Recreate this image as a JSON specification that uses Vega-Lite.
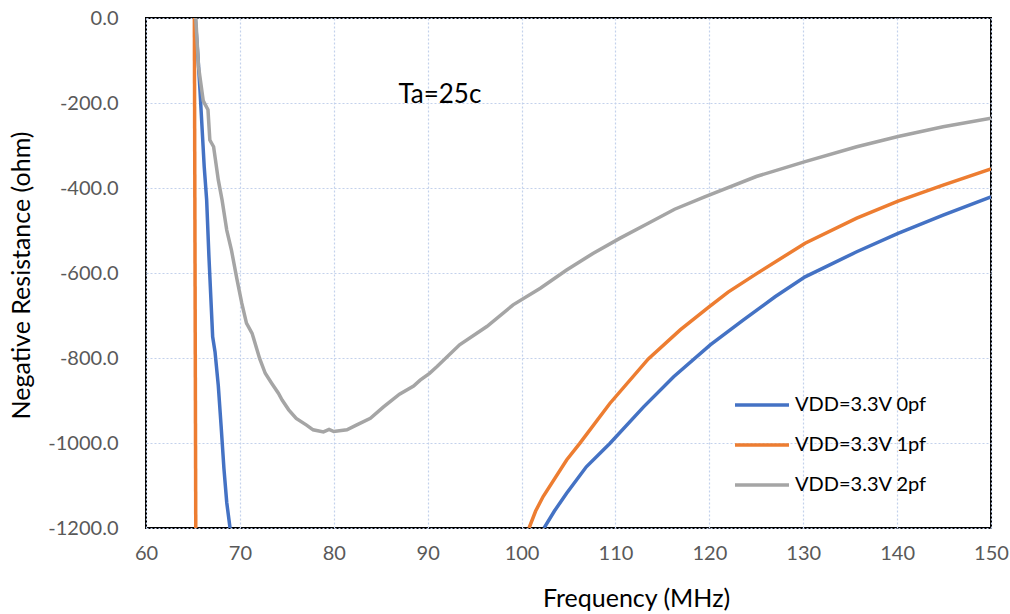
{
  "$schema": "https://vega.github.io/schema/vega-lite/v6.json",
  "width": 845,
  "height": 510,
  "autosize": {"type": "none"},
  "padding": {"left": 146, "top": 18, "right": 19, "bottom": 86},
  "background": "white",
  "config": {
    "view": {"stroke": "#000", "strokeWidth": 2},
    "font": "Lato"
  },
  "layer": [
    {
      "data": {
        "values": [
          {"series": "VDD=3.3V 0pf", "seg": "a", "f": 65.25, "r": 0},
          {"series": "VDD=3.3V 0pf", "seg": "a", "f": 65.5, "r": -80},
          {"series": "VDD=3.3V 0pf", "seg": "a", "f": 65.75, "r": -170},
          {"series": "VDD=3.3V 0pf", "seg": "a", "f": 66.2, "r": -350},
          {"series": "VDD=3.3V 0pf", "seg": "a", "f": 66.46, "r": -428},
          {"series": "VDD=3.3V 0pf", "seg": "a", "f": 66.7, "r": -560},
          {"series": "VDD=3.3V 0pf", "seg": "a", "f": 67.1, "r": -750},
          {"series": "VDD=3.3V 0pf", "seg": "a", "f": 67.35, "r": -785},
          {"series": "VDD=3.3V 0pf", "seg": "a", "f": 67.7, "r": -865},
          {"series": "VDD=3.3V 0pf", "seg": "a", "f": 68.0, "r": -960},
          {"series": "VDD=3.3V 0pf", "seg": "a", "f": 68.3, "r": -1060},
          {"series": "VDD=3.3V 0pf", "seg": "a", "f": 68.6, "r": -1140},
          {"series": "VDD=3.3V 0pf", "seg": "a", "f": 68.95, "r": -1200},
          {"series": "VDD=3.3V 0pf", "seg": "b", "f": 102.4, "r": -1200},
          {"series": "VDD=3.3V 0pf", "seg": "b", "f": 103.5, "r": -1160},
          {"series": "VDD=3.3V 0pf", "seg": "b", "f": 104.8, "r": -1118},
          {"series": "VDD=3.3V 0pf", "seg": "b", "f": 106.9, "r": -1056},
          {"series": "VDD=3.3V 0pf", "seg": "b", "f": 109.4, "r": -1001},
          {"series": "VDD=3.3V 0pf", "seg": "b", "f": 113.0, "r": -915},
          {"series": "VDD=3.3V 0pf", "seg": "b", "f": 116.2, "r": -844},
          {"series": "VDD=3.3V 0pf", "seg": "b", "f": 120.1, "r": -769},
          {"series": "VDD=3.3V 0pf", "seg": "b", "f": 123.6, "r": -711},
          {"series": "VDD=3.3V 0pf", "seg": "b", "f": 127.0, "r": -656},
          {"series": "VDD=3.3V 0pf", "seg": "b", "f": 130.2, "r": -609},
          {"series": "VDD=3.3V 0pf", "seg": "b", "f": 135.7, "r": -550},
          {"series": "VDD=3.3V 0pf", "seg": "b", "f": 140.1, "r": -507},
          {"series": "VDD=3.3V 0pf", "seg": "b", "f": 144.9, "r": -464},
          {"series": "VDD=3.3V 0pf", "seg": "b", "f": 150.0, "r": -421},
          {"series": "VDD=3.3V 1pf", "seg": "a", "f": 65.15, "r": 0},
          {"series": "VDD=3.3V 1pf", "seg": "a", "f": 65.3, "r": -1200},
          {"series": "VDD=3.3V 1pf", "seg": "b", "f": 100.8, "r": -1200},
          {"series": "VDD=3.3V 1pf", "seg": "b", "f": 101.5, "r": -1160},
          {"series": "VDD=3.3V 1pf", "seg": "b", "f": 102.3, "r": -1126},
          {"series": "VDD=3.3V 1pf", "seg": "b", "f": 104.8, "r": -1040},
          {"series": "VDD=3.3V 1pf", "seg": "b", "f": 106.2, "r": -1001},
          {"series": "VDD=3.3V 1pf", "seg": "b", "f": 109.4, "r": -907},
          {"series": "VDD=3.3V 1pf", "seg": "b", "f": 113.5, "r": -802},
          {"series": "VDD=3.3V 1pf", "seg": "b", "f": 116.9, "r": -734},
          {"series": "VDD=3.3V 1pf", "seg": "b", "f": 119.9, "r": -681},
          {"series": "VDD=3.3V 1pf", "seg": "b", "f": 122.0, "r": -645},
          {"series": "VDD=3.3V 1pf", "seg": "b", "f": 125.0, "r": -602},
          {"series": "VDD=3.3V 1pf", "seg": "b", "f": 130.2, "r": -530},
          {"series": "VDD=3.3V 1pf", "seg": "b", "f": 135.7, "r": -471},
          {"series": "VDD=3.3V 1pf", "seg": "b", "f": 140.1, "r": -431},
          {"series": "VDD=3.3V 1pf", "seg": "b", "f": 144.9, "r": -393},
          {"series": "VDD=3.3V 1pf", "seg": "b", "f": 150.0, "r": -355},
          {"series": "VDD=3.3V 2pf", "seg": "a", "f": 65.3, "r": 0},
          {"series": "VDD=3.3V 2pf", "seg": "a", "f": 65.6, "r": -115},
          {"series": "VDD=3.3V 2pf", "seg": "a", "f": 66.1, "r": -195},
          {"series": "VDD=3.3V 2pf", "seg": "a", "f": 66.6, "r": -216},
          {"series": "VDD=3.3V 2pf", "seg": "a", "f": 66.8, "r": -287},
          {"series": "VDD=3.3V 2pf", "seg": "a", "f": 67.2, "r": -303},
          {"series": "VDD=3.3V 2pf", "seg": "a", "f": 67.7, "r": -381},
          {"series": "VDD=3.3V 2pf", "seg": "a", "f": 68.1, "r": -428},
          {"series": "VDD=3.3V 2pf", "seg": "a", "f": 68.6, "r": -499},
          {"series": "VDD=3.3V 2pf", "seg": "a", "f": 69.1, "r": -546},
          {"series": "VDD=3.3V 2pf", "seg": "a", "f": 69.7, "r": -616},
          {"series": "VDD=3.3V 2pf", "seg": "a", "f": 70.2, "r": -671},
          {"series": "VDD=3.3V 2pf", "seg": "a", "f": 70.7, "r": -718},
          {"series": "VDD=3.3V 2pf", "seg": "a", "f": 71.3, "r": -742},
          {"series": "VDD=3.3V 2pf", "seg": "a", "f": 72.1, "r": -801},
          {"series": "VDD=3.3V 2pf", "seg": "a", "f": 72.7, "r": -836},
          {"series": "VDD=3.3V 2pf", "seg": "a", "f": 73.4, "r": -860},
          {"series": "VDD=3.3V 2pf", "seg": "a", "f": 74.1, "r": -883},
          {"series": "VDD=3.3V 2pf", "seg": "a", "f": 74.5, "r": -899},
          {"series": "VDD=3.3V 2pf", "seg": "a", "f": 75.2, "r": -922},
          {"series": "VDD=3.3V 2pf", "seg": "a", "f": 76.0, "r": -942},
          {"series": "VDD=3.3V 2pf", "seg": "a", "f": 77.1, "r": -958},
          {"series": "VDD=3.3V 2pf", "seg": "a", "f": 77.8, "r": -969},
          {"series": "VDD=3.3V 2pf", "seg": "a", "f": 78.9, "r": -974},
          {"series": "VDD=3.3V 2pf", "seg": "a", "f": 79.5, "r": -968},
          {"series": "VDD=3.3V 2pf", "seg": "a", "f": 80.0, "r": -973},
          {"series": "VDD=3.3V 2pf", "seg": "a", "f": 81.4, "r": -969},
          {"series": "VDD=3.3V 2pf", "seg": "a", "f": 82.4, "r": -958},
          {"series": "VDD=3.3V 2pf", "seg": "a", "f": 83.9, "r": -942},
          {"series": "VDD=3.3V 2pf", "seg": "a", "f": 85.3, "r": -915},
          {"series": "VDD=3.3V 2pf", "seg": "a", "f": 87.0, "r": -885},
          {"series": "VDD=3.3V 2pf", "seg": "a", "f": 88.5, "r": -866},
          {"series": "VDD=3.3V 2pf", "seg": "a", "f": 89.2, "r": -852},
          {"series": "VDD=3.3V 2pf", "seg": "a", "f": 90.2, "r": -836},
          {"series": "VDD=3.3V 2pf", "seg": "a", "f": 91.0, "r": -820},
          {"series": "VDD=3.3V 2pf", "seg": "a", "f": 93.4, "r": -769},
          {"series": "VDD=3.3V 2pf", "seg": "a", "f": 96.3, "r": -726},
          {"series": "VDD=3.3V 2pf", "seg": "a", "f": 99.1, "r": -675},
          {"series": "VDD=3.3V 2pf", "seg": "a", "f": 102.0, "r": -636},
          {"series": "VDD=3.3V 2pf", "seg": "a", "f": 104.8, "r": -593},
          {"series": "VDD=3.3V 2pf", "seg": "a", "f": 107.6, "r": -554},
          {"series": "VDD=3.3V 2pf", "seg": "a", "f": 110.5, "r": -518},
          {"series": "VDD=3.3V 2pf", "seg": "a", "f": 113.5, "r": -483},
          {"series": "VDD=3.3V 2pf", "seg": "a", "f": 116.3, "r": -450},
          {"series": "VDD=3.3V 2pf", "seg": "a", "f": 119.5, "r": -421},
          {"series": "VDD=3.3V 2pf", "seg": "a", "f": 125.0, "r": -373},
          {"series": "VDD=3.3V 2pf", "seg": "a", "f": 130.2, "r": -338},
          {"series": "VDD=3.3V 2pf", "seg": "a", "f": 135.7, "r": -303},
          {"series": "VDD=3.3V 2pf", "seg": "a", "f": 140.1, "r": -279},
          {"series": "VDD=3.3V 2pf", "seg": "a", "f": 144.9, "r": -256},
          {"series": "VDD=3.3V 2pf", "seg": "a", "f": 150.0, "r": -236}
        ]
      },
      "mark": {"type": "line", "strokeWidth": 3.5, "clip": true},
      "encoding": {
        "x": {
          "field": "f",
          "type": "quantitative",
          "scale": {"domain": [60, 150], "nice": false, "zero": false},
          "axis": {
            "values": [60, 70, 80, 90, 100, 110, 120, 130, 140, 150],
            "title": "Frequency (MHz)",
            "grid": true,
            "gridColor": "#c3d1ec",
            "gridDash": [2, 2],
            "gridWidth": 1.2,
            "domain": false,
            "ticks": false,
            "tickSize": 0,
            "labelFontSize": 20,
            "labelColor": "#595959",
            "labelPadding": 15,
            "labelFlush": false,
            "labelOverlap": false,
            "titleFontSize": 25,
            "titleFontWeight": "normal",
            "titleColor": "#000",
            "titleX": 490,
            "titleY": 78,
            "titleBaseline": "alphabetic",
            "titleAlign": "center",
            "titleAnchor": null
          }
        },
        "y": {
          "field": "r",
          "type": "quantitative",
          "scale": {"domain": [-1200, 0], "nice": false, "zero": false},
          "axis": {
            "values": [0, -200, -400, -600, -800, -1000, -1200],
            "labelExpr": "datum.value == 0 ? '0.0' : '-' + format(-datum.value, '.1f')",
            "title": "Negative Resistance (ohm)",
            "grid": true,
            "gridColor": "#c3d1ec",
            "gridDash": [2, 2],
            "gridWidth": 1.2,
            "domain": false,
            "ticks": false,
            "tickSize": 0,
            "labelFontSize": 20,
            "labelColor": "#595959",
            "labelPadding": 28,
            "labelOverlap": false,
            "titleFontSize": 25,
            "titleFontWeight": "normal",
            "titleColor": "#000",
            "titleX": -125,
            "titleY": 257,
            "titleAngle": 270,
            "titleBaseline": "middle",
            "titleAlign": "center"
          }
        },
        "color": {
          "field": "series",
          "type": "nominal",
          "scale": {
            "domain": ["VDD=3.3V 0pf", "VDD=3.3V 1pf", "VDD=3.3V 2pf"],
            "range": ["#4472C4", "#ED7D31", "#A5A5A5"]
          },
          "legend": {
            "orient": "none",
            "legendX": 587,
            "legendY": 358,
            "title": null,
            "padding": 0,
            "symbolType": "stroke",
            "symbolSize": 2916,
            "symbolStrokeWidth": 3.5,
            "symbolOpacity": 1,
            "labelFontSize": 20,
            "labelColor": "#000",
            "labelOffset": 4,
            "rowPadding": 1
          }
        },
        "detail": {"field": "seg"}
      }
    },
    {
      "data": {"values": [{"f": 91.3, "r": -200, "label": "Ta=25c"}]},
      "mark": {"type": "text", "fontSize": 26, "baseline": "alphabetic", "align": "center", "color": "#000"},
      "encoding": {
        "x": {"field": "f", "type": "quantitative"},
        "y": {"field": "r", "type": "quantitative"},
        "text": {"field": "label"}
      }
    }
  ]
}
